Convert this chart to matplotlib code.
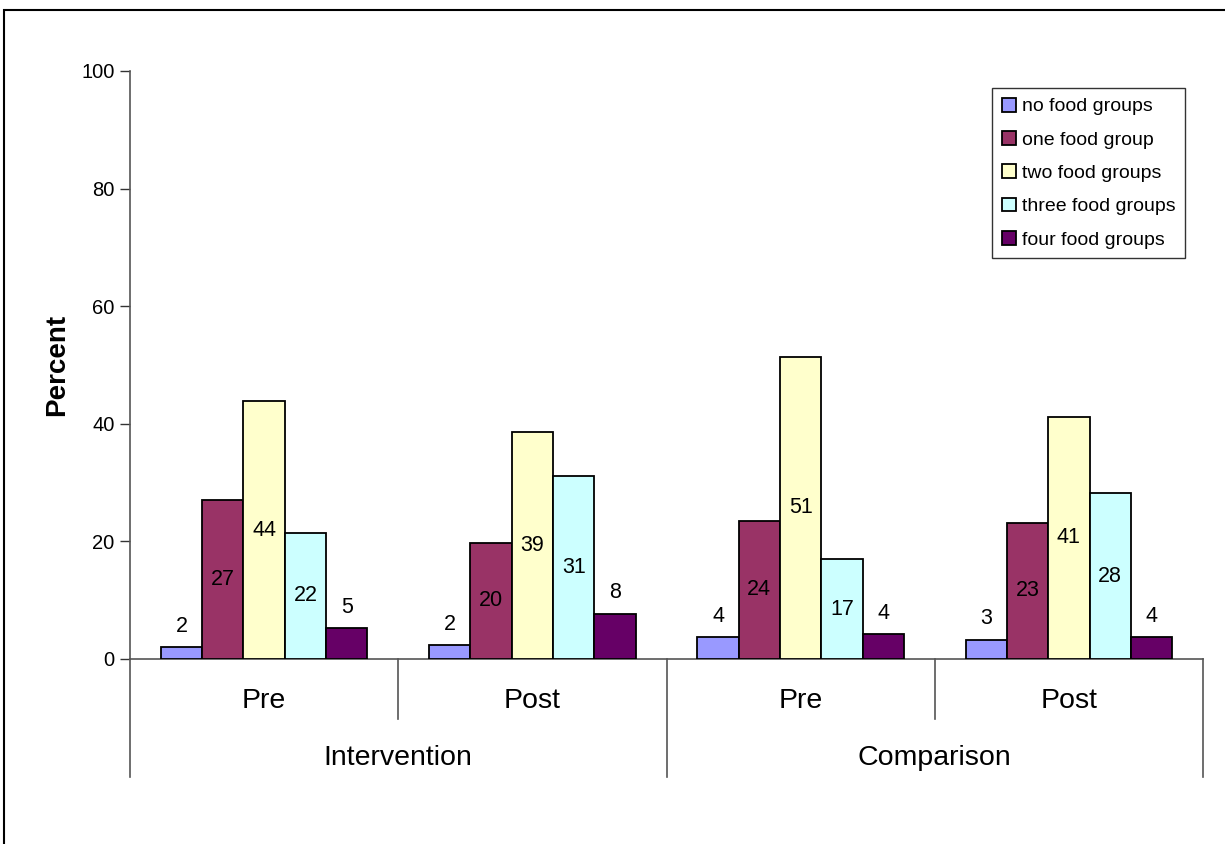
import matplotlib
matplotlib.use("Agg")
import matplotlib.pyplot as plt
from matplotlib.patches import Rectangle
import numpy as np

plt.rcParams['font.family'] = ['Liberation Sans', 'DejaVu Sans']

# ---- data ----
groups = ["Intervention", "Comparison"]
periods = ["Pre", "Post", "Pre", "Post"]
series = ["no food groups", "one food group", "two food groups",
          "three food groups", "four food groups"]
no_food = [2.0, 2.4, 3.7, 3.3]
one_food = [27.1, 19.8, 23.5, 23.2]
two_food = [43.8, 38.6, 51.4, 41.2]
three_food = [21.5, 31.2, 17.0, 28.2]
four_food = [5.3, 7.7, 4.2, 3.7]
labels_no = [2, 2, 4, 3]
labels_one = [27, 20, 24, 23]
labels_two = [44, 39, 51, 41]
labels_three = [22, 31, 17, 28]
labels_four = [5, 8, 4, 4]
y_ticks = [0, 20, 40, 60, 80, 100]

values = [no_food, one_food, two_food, three_food, four_food]
labels = [labels_no, labels_one, labels_two, labels_three, labels_four]
colors = ["#9999FF", "#993366", "#FFFFCC", "#CCFFFF", "#660066"]

W, H = 1225, 844
fig = plt.figure(figsize=(W / 100, H / 100), dpi=100)
ax = fig.add_axes([130 / W, 1 - 659 / H, (1203 - 130) / W, (659 - 71) / H])

n = len(series)
bw = 1 / (n + 1.5)
x = np.arange(len(periods))
for i, (vals, labs, c, name) in enumerate(zip(values, labels, colors, series)):
    xs = x + (i - (n - 1) / 2) * bw
    bars = ax.bar(xs, vals, width=bw, color=c, edgecolor="black",
                  linewidth=1.3, label=name, zorder=3)
    for b, v, lab in zip(bars, vals, labs):
        cx = b.get_x() + b.get_width() / 2
        if v >= 9:
            ax.text(cx, v / 2, str(lab), ha="center", va="center",
                    fontsize=15.5, zorder=4)
        else:
            ax.annotate(str(lab), (cx, v), xytext=(0, 15),
                        textcoords="offset points", ha="center",
                        va="center", fontsize=15.5, zorder=4)

ax.set_xlim(-0.5, len(periods) - 0.5)
ax.set_ylim(0, 100)
ax.set_yticks(y_ticks)
ax.tick_params(axis="y", direction="out", length=7, width=1,
               labelsize=14.5, pad=4, colors="#333333", labelcolor="black")
ax.set_xticks([])
for s in ["top", "right"]:
    ax.spines[s].set_visible(False)
ax.spines["left"].set_color("#555555")
ax.spines["left"].set_linewidth(1.2)
ax.spines["bottom"].set_color("#555555")
ax.spines["bottom"].set_linewidth(1.2)

ax.set_ylabel("Percent", fontsize=20, fontweight="bold", labelpad=8)

# multi-level category axis
tr = ax.get_xaxis_transform()
inner_bottom = -(719 - 659) / (659 - 71)
outer_bottom = -(777 - 659) / (659 - 71)
for k in range(len(periods) + 1):
    xb = k - 0.5
    yb = outer_bottom if k % 2 == 0 else inner_bottom
    ax.plot([xb, xb], [0, yb], transform=tr, color="#555555", lw=1.2,
            clip_on=False)
for k, p in enumerate(periods):
    ax.text(k, -(701 - 659) / (659 - 71), p, transform=tr, ha="center",
            va="center", fontsize=20.5)
for g_i, g in enumerate(groups):
    ax.text(2 * g_i + 0.5, -(758 - 659) / (659 - 71), g, transform=tr,
            ha="center", va="center", fontsize=20.5)

leg = ax.legend(loc="upper right", bbox_to_anchor=(1185 / W, 1 - 88 / H),
                bbox_transform=fig.transFigure, fontsize=14, frameon=True,
                fancybox=False, edgecolor="black", handlelength=0.72,
                handleheight=0.72, handletextpad=0.3, labelspacing=0.8,
                borderpad=0.5, borderaxespad=0)
leg.get_frame().set_linewidth(1.0)

# outer chart frame
fig.patches.append(Rectangle((3.5 / W, -0.1), 1.2, 1.1 - 10.5 / H,
                             transform=fig.transFigure, fill=False,
                             edgecolor="black", linewidth=1.5))

fig.savefig("out.png", dpi=100)
